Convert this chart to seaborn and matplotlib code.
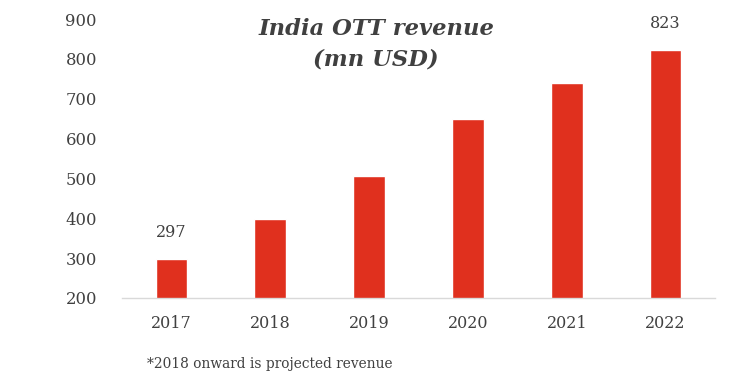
import numpy as np
import pandas as pd
import matplotlib.pyplot as plt
import seaborn as sns

# data
years = ["2017", "2018", "2019", "2020", "2021", "2022"]
revenue = [297, 398, 506, 648, 739, 823]
labelled = ["2017", "2022"]   # only these bars carry a value label
yticks = [200, 300, 400, 500, 600, 700, 800, 900]

df = pd.DataFrame({"year": years, "revenue": revenue})

sns.set_style("white")
plt.rcParams["font.family"] = ["DejaVu Serif"]
text_col = "#404040"

fig = plt.figure(figsize=(7.52, 3.87), dpi=100)
ax = fig.add_axes([122 / 752, 1 - 298 / 387, (715 - 122) / 752, (298 - 19) / 387])

sns.barplot(data=df, x="year", y="revenue", color="#E0301E", saturation=1,
            width=0.32, ax=ax)

ax.set_ylim(200, 900)
ax.set_xlim(-0.5, 5.5)
ax.set_yticks(yticks)
ax.set_xlabel("")
ax.set_ylabel("")
ax.tick_params(axis="y", length=0, pad=18, labelsize=11.8, labelcolor=text_col)
ax.tick_params(axis="x", length=0, pad=12, labelsize=11.5, labelcolor=text_col)

sns.despine(ax=ax, left=True)
ax.spines["bottom"].set_color("#D9D9D9")
ax.spines["bottom"].set_linewidth(1)

# value labels
for i, (yr, val) in enumerate(zip(years, revenue)):
    if yr in labelled:
        ax.annotate(str(val), (i, val), xytext=(0, 13), textcoords="offset points",
                    ha="center", va="bottom", fontsize=11.5, color=text_col)

fig.text(376 / 752, 1 - 44 / 387, "India OTT revenue\n(mn USD)", ha="center",
         va="center", fontsize=16.3, fontweight="bold", fontstyle="italic",
         color=text_col, linespacing=1.5)

fig.text(147 / 752, 1 - 364 / 387, "*2018 onward is projected revenue",
         ha="left", va="center", fontsize=9.9, color=text_col)

fig.savefig("out.png", dpi=100)
